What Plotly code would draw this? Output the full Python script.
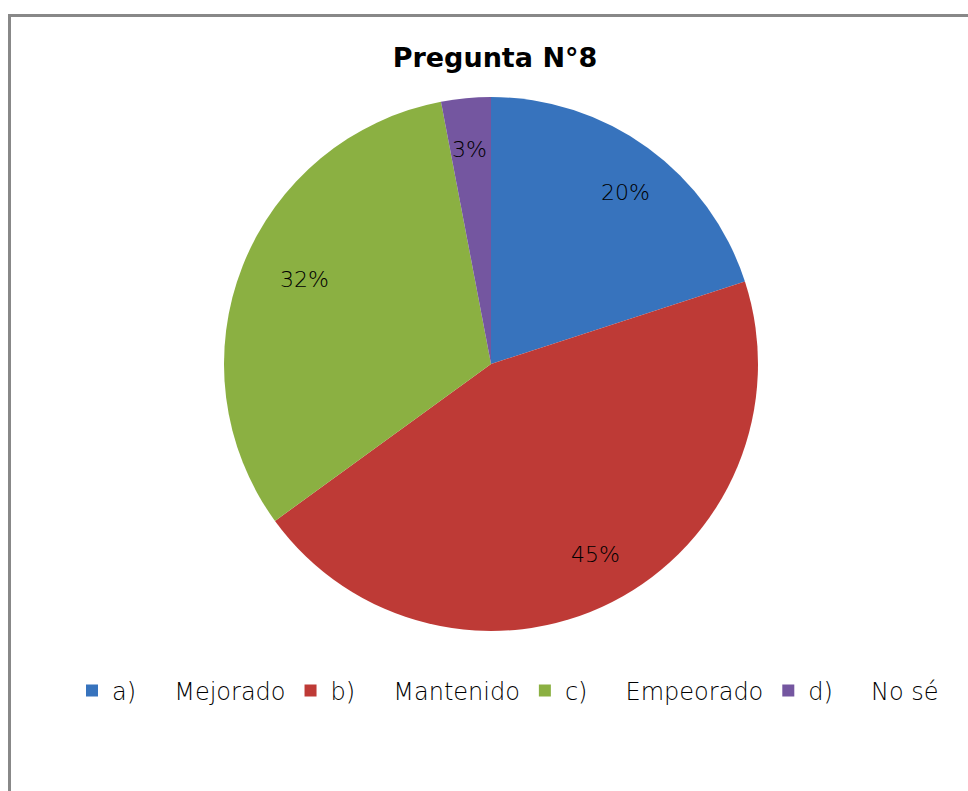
import math
import plotly.graph_objects as go

NB = "\u00a0"
labels = ["a)" + NB * 5 + "Mejorado", "b)" + NB * 5 + "Mantenido",
          "c)" + NB * 5 + "Empeorado", "d)" + NB * 5 + "No sé"]
values = [20, 45, 32, 3]
colors = ["#3773BD", "#BE3A36", "#8BB042", "#7456A0"]

W, H = 968, 791
cx, cy, R = 491, 364, 267
LIGHT = "DejaVu Sans ExtraLight, DejaVu Sans, sans-serif"

fig = go.Figure(go.Pie(
    labels=labels, values=values, sort=False, direction="clockwise", rotation=0,
    marker=dict(colors=colors, line=dict(width=0)),
    textinfo="none",
    domain=dict(x=[(cx - R) / W, (cx + R) / W], y=[1 - (cy + R) / H, 1 - (cy - R) / H]),
    hoverinfo="label+percent",
))

# percentage labels placed at 0.86 R along each slice's mid angle
total = sum(values)
annotations = []
cum = 0
for v in values:
    mid = (cum + v / 2) / total * 2 * math.pi
    cum += v
    r = 0.86 * R
    annotations.append(dict(
        x=(cx + r * math.sin(mid)) / W, y=1 - (cy - r * math.cos(mid)) / H,
        xref="paper", yref="paper", showarrow=False,
        text=f"{v / total * 100:.0f}%",
        font=dict(family=LIGHT, size=22, color="black", weight=200),
    ))

fig.update_layout(
    width=W, height=H, margin=dict(l=0, r=0, t=0, b=0),
    paper_bgcolor="white", plot_bgcolor="white",
    title=dict(text="<b>Pregunta N°8</b>", x=495 / W, xanchor="center", y=1 - 58 / H, yanchor="middle",
               font=dict(family="DejaVu Sans, sans-serif", size=27, color="black")),
    legend=dict(orientation="h", x=508 / W, xanchor="center", y=1 - 691 / H, yanchor="middle",
                font=dict(family=LIGHT, size=24, color="black", weight=200),
                itemwidth=30, traceorder="normal"),
    annotations=annotations,
    shapes=[
        dict(type="line", xref="paper", yref="paper", x0=8 / W, x1=1, y0=1 - 15.5 / H, y1=1 - 15.5 / H,
             line=dict(color="#888888", width=3)),
        dict(type="line", xref="paper", yref="paper", x0=9.5 / W, x1=9.5 / W, y0=0, y1=1 - 15.5 / H,
             line=dict(color="#888888", width=3)),
    ],
)

fig.write_html("out.html", config={"displayModeBar": False},
               post_script="document.body.style.margin='0px';")
